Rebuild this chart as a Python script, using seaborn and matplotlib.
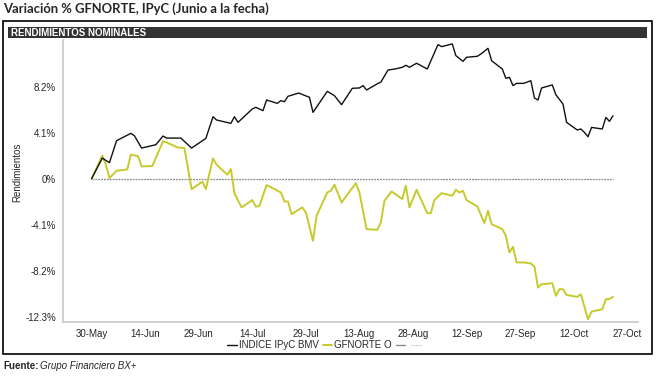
import pandas as pd
import seaborn as sns
import matplotlib.pyplot as plt
import matplotlib.dates as mdates
from matplotlib.patches import Rectangle
from matplotlib.lines import Line2D

# Series values (days after 30-May-2018, % return)
ipyc_days = [0, 3, 5, 7, 11, 12, 14, 18, 20, 21, 25, 28, 32, 34, 35, 39, 40, 41,
             45, 46, 48, 49, 52, 53, 54, 55, 58, 61, 62, 66, 68, 70, 73, 75, 76,
             77, 80, 81, 83, 85, 87, 88, 89, 91, 94, 97, 98, 101, 102, 104, 105,
             108, 109, 111, 112, 115, 116, 117, 118, 119, 121, 123, 124, 125, 126,
             129, 130, 132, 133, 136, 137, 138, 139, 140, 143, 144, 145, 146]
ipyc_vals = [0.00, 1.84, 1.43, 3.39, 4.04, 3.83, 2.73, 3.03, 3.80, 3.62, 3.62, 2.73,
             3.59, 5.52, 5.23, 4.93, 5.52, 5.02, 6.21, 6.36, 6.06, 7.01, 6.71, 6.95,
             6.86, 7.34, 7.63, 7.25, 5.91, 7.78, 7.40, 6.59, 8.05, 8.08, 8.29, 7.90,
             8.45, 8.60, 9.68, 9.77, 9.92, 10.10, 9.92, 10.28, 9.77, 11.94, 11.76,
             12.00, 10.96, 10.45, 10.81, 10.90, 11.10, 11.61, 10.51, 9.77, 8.94,
             9.03, 8.29, 8.49, 8.49, 8.73, 7.19, 7.01, 8.08, 8.35, 7.48, 6.65, 5.02,
             4.34, 4.43, 4.13, 3.74, 4.57, 4.43, 5.46, 5.11, 5.61]

gfn_days = [0, 3, 4, 5, 7, 10, 11, 13, 14, 17, 20, 21, 24, 26, 28, 31, 32, 34, 35,
            38, 39, 40, 42, 45, 46, 47, 49, 53, 54, 55, 56, 59, 60, 62, 63, 66, 67,
            68, 70, 74, 75, 77, 80, 81, 82, 84, 87, 88, 89, 91, 94, 95, 96, 98,
            101, 102, 103, 104, 105, 108, 110, 111, 112, 115, 116, 117, 118, 119,
            121, 123, 124, 125, 126, 129, 130, 131, 132, 133, 136, 137, 139, 140,
            143, 144, 145, 146]
gfn_vals = [0.00, 2.05, 1.25, 0.06, 0.71, 0.83, 2.14, 2.02, 1.10, 1.13, 3.33, 3.24,
            2.79, 2.73, -0.92, -0.27, -0.92, 1.81, 1.25, 0.36, 0.86, -1.30, -2.55,
            -1.90, -2.49, -2.41, -0.56, -1.22, -2.02, -2.02, -3.15, -2.55, -3.00,
            -5.52, -3.30, -1.22, -1.07, -0.53, -2.11, -0.39, -1.22, -4.48, -4.55,
            -3.89, -1.96, -1.13, -1.81, -0.62, -2.55, -0.98, -3.06, -3.06, -1.90,
            -1.28, -1.51, -0.98, -1.22, -1.07, -1.90, -2.46, -3.95, -2.85, -4.04,
            -4.48, -5.08, -6.56, -6.06, -7.45, -7.45, -7.54, -7.81, -9.68, -9.39,
            -9.30, -10.42, -9.83, -9.83, -10.34, -10.51, -10.28, -12.50, -11.82,
            -11.61, -10.72, -10.70, -10.51]

start = pd.Timestamp("2018-05-30")
y_ticks = [-12.3, -8.2, -4.1, 0, 4.1, 8.2]
y_labels = ["-12.3%", "-8.2%", "-4.1%", "0%", "4.1%", "8.2%"]

ipyc = pd.DataFrame({"fecha": start + pd.to_timedelta(ipyc_days, unit="D"), "valor": ipyc_vals})
gfn = pd.DataFrame({"fecha": start + pd.to_timedelta(gfn_days, unit="D"), "valor": gfn_vals})
zero = pd.DataFrame({"fecha": [ipyc["fecha"].iloc[0], ipyc["fecha"].iloc[-1]], "valor": [0, 0]})

sns.set_style("white")
plt.rcParams["font.family"] = ["Liberation Sans", "DejaVu Sans"]

W, H = 662, 377
fig = plt.figure(figsize=(W / 100, H / 100), dpi=100)


def fx(px):
    return px / W


def fy(py):
    return 1 - py / H


# outer frame and header band
fig.patches.append(Rectangle((fx(3), fy(354)), fx(652) - fx(3), fy(21) - fy(354),
                             transform=fig.transFigure, fill=False, ec="black", lw=1.2))
fig.patches.append(Rectangle((fx(8), fy(38)), fx(647) - fx(8), fy(27) - fy(38),
                             transform=fig.transFigure, fc="#333333", ec="none"))
fig.text(fx(11), fy(32.5), "RENDIMIENTOS NOMINALES", color="white", fontsize=7,
         fontweight="bold", va="center", ha="left")
fig.text(fx(3), fy(9), "Variación % GFNORTE, IPyC (Junio a la fecha)", fontsize=9.4,
         fontweight="bold", family=["Lato", "DejaVu Sans"], va="center", ha="left")
fig.text(fx(3), fy(366), "Fuente:", fontsize=7, fontweight="bold", va="center", ha="left")
fig.text(fx(40), fy(366), "Grupo Financiero BX+", fontsize=7, style="italic",
         va="center", ha="left")

ax = fig.add_axes([fx(63), fy(322), fx(638) - fx(63), fy(40) - fy(322)])
sns.lineplot(data=zero, x="fecha", y="valor", ax=ax, color="#8a8a8a", lw=0.9,
             linestyle=(0, (1.5, 0.8)))
sns.lineplot(data=gfn, x="fecha", y="valor", ax=ax, color="#c6ca2c", lw=1.4)
sns.lineplot(data=ipyc, x="fecha", y="valor", ax=ax, color="#111111", lw=1.0)

ax.set_xlim(start - pd.Timedelta(days=8), start + pd.Timedelta(days=153))
ax.set_ylim(-12.75, 12.35)
ax.set_yticks(y_ticks)
ax.set_yticklabels(y_labels)
ax.set_xticks([start + pd.Timedelta(days=15 * i) for i in range(11)])
ax.xaxis.set_major_formatter(mdates.DateFormatter("%d-%b"))
ax.set_xlabel("")
ax.set_ylabel("Rendimientos", fontsize=7)
ax.yaxis.set_label_coords(-0.071, 0.53)
ax.tick_params(labelsize=7, length=3, color="#bbbbbb", width=0.8, pad=2)
for side in ["top", "right"]:
    ax.spines[side].set_visible(False)
for side in ["left", "bottom"]:
    ax.spines[side].set_color("#c8c8c8")
    ax.spines[side].set_linewidth(1.2)

handles = [Line2D([], [], color="#111111", lw=1.0),
           Line2D([], [], color="#c6ca2c", lw=1.4),
           Line2D([], [], color="#8a8a8a", lw=1.0),
           Line2D([], [], color="#bbbbbb", lw=0.8, linestyle=(0, (1, 1)))]
labels = ["INDICE IPyC BMV", "GFNORTE O", "", ""]
fig.legend(handles, labels, loc="center", bbox_to_anchor=(fx(325), fy(345)), ncol=4,
           frameon=False, fontsize=7, handlelength=1.0, handletextpad=0.2,
           columnspacing=0.4)

fig.savefig("out.png", dpi=100)
